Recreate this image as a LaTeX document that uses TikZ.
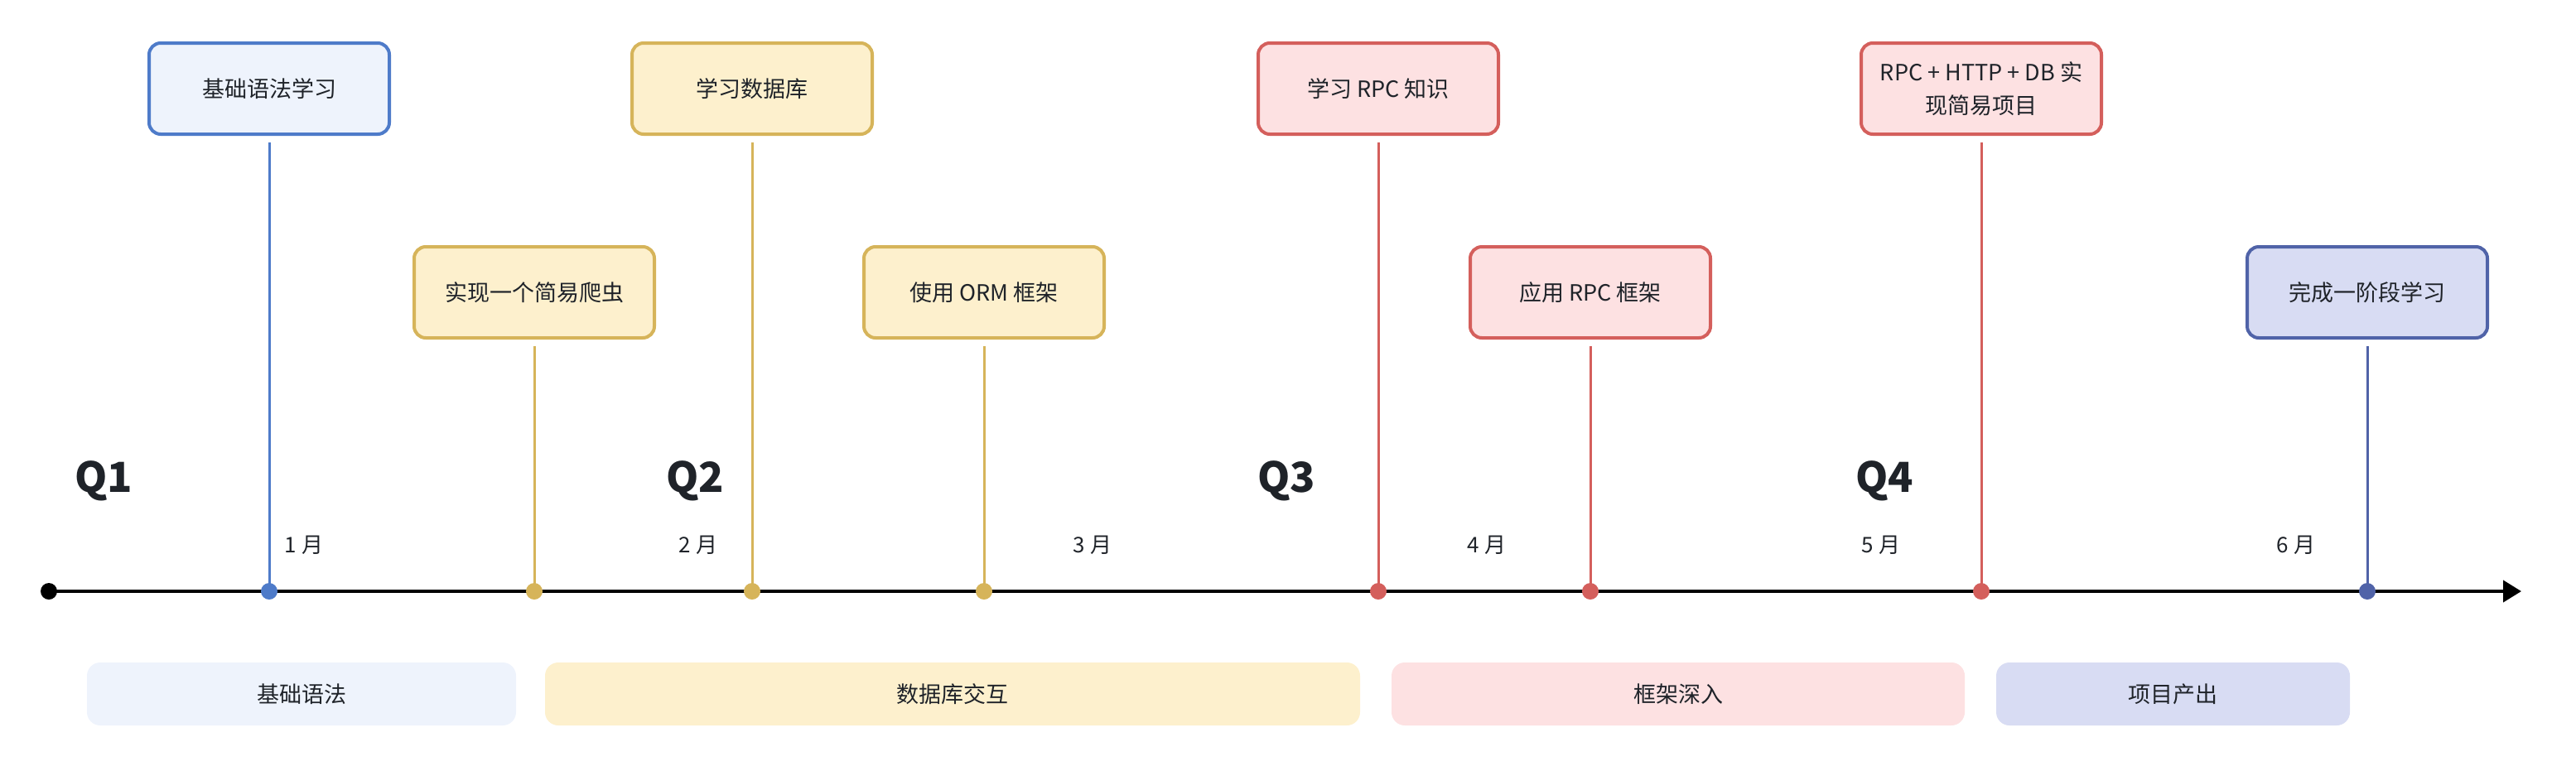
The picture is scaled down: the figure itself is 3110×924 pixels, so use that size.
\documentclass[tikz,border=0pt]{standalone}
\usepackage{fontspec}
\setmainfont{Noto Sans CJK SC}
\usetikzlibrary{arrows.meta}
\definecolor{textc}{HTML}{1F2329}
\definecolor{blueb}{HTML}{4E7BC9}
\definecolor{bluef}{HTML}{EEF3FC}
\definecolor{yelb}{HTML}{D6B45A}
\definecolor{yelf}{HTML}{FDF0CD}
\definecolor{redb}{HTML}{D45F5C}
\definecolor{redf}{HTML}{FDE1E2}
\definecolor{navb}{HTML}{5063A8}
\definecolor{navf}{HTML}{D8DCF3}
\tikzset{
  evbox/.style={draw=#1b, fill=#1f, line width=4pt, rounded corners=14pt,
    minimum width=290pt, minimum height=110pt, inner sep=0pt, align=center,
    text=textc, font=\fontsize{27}{40}\selectfont},
  tick/.style={circle, fill=#1b, minimum size=20pt, inner sep=0pt},
  stem/.style={draw=#1b, line width=3pt},
  band/.style={fill=#1f, rounded corners=16pt, minimum height=76pt, inner sep=0pt,
    text=textc, font=\fontsize{27}{32}\selectfont},
  qlab/.style={text=textc, font=\fontsize{50}{56}\selectfont\bfseries},
  mlab/.style={text=textc, font=\fontsize{26}{30}\selectfont}
}
\begin{document}
\begin{tikzpicture}[x=1pt,y=-1pt]
\useasboundingbox (0,0) rectangle (3110,924);
% event boxes
\node[evbox=blue] (b1) at (325,107) {基础语法学习};
\node[evbox=yel] (b2) at (645,353) {实现一个简易爬虫};
\node[evbox=yel] (b3) at (908,107) {学习数据库};
\node[evbox=yel] (b4) at (1188,353) {使用 ORM 框架};
\node[evbox=red] (b5) at (1664,107) {学习 RPC 知识};
\node[evbox=red] (b6) at (1920,353) {应用 RPC 框架};
\node[evbox=red] (b7) at (2392,107) {RPC + HTTP + DB 实\\现简易项目};
\node[evbox=nav] (b8) at (2858,353) {完成一阶段学习};
% axis
\node[circle, fill=black, minimum size=20pt, inner sep=0pt] (s) at (59,714) {};
\coordinate (e) at (3044,714);
\draw[line width=4pt, -{Triangle[length=22pt,width=26pt]}] (s.center) -- (e);
% tick coordinates
\coordinate (p1) at (325,714);
\coordinate (p2) at (645,714);
\coordinate (p3) at (908,714);
\coordinate (p4) at (1188,714);
\coordinate (p5) at (1664,714);
\coordinate (p6) at (1920,714);
\coordinate (p7) at (2392,714);
\coordinate (p8) at (2858,714);
% stems
\draw[stem=blue] ([yshift=-8pt]b1.south) -- (p1);
\draw[stem=yel] ([yshift=-8pt]b2.south) -- (p2);
\draw[stem=yel] ([yshift=-8pt]b3.south) -- (p3);
\draw[stem=yel] ([yshift=-8pt]b4.south) -- (p4);
\draw[stem=red] ([yshift=-8pt]b5.south) -- (p5);
\draw[stem=red] ([yshift=-8pt]b6.south) -- (p6);
\draw[stem=red] ([yshift=-8pt]b7.south) -- (p7);
\draw[stem=nav] ([yshift=-8pt]b8.south) -- (p8);
% dots
\node[tick=blue] (d1) at (p1) {};
\node[tick=yel] (d2) at (p2) {};
\node[tick=yel] (d3) at (p3) {};
\node[tick=yel] (d4) at (p4) {};
\node[tick=red] (d5) at (p5) {};
\node[tick=red] (d6) at (p6) {};
\node[tick=red] (d7) at (p7) {};
\node[tick=nav] (d8) at (p8) {};
% quarter labels
\node[qlab] (q1) at (125,581) {Q1};
\node[qlab] (q2) at (839,581) {Q2};
\node[qlab] (q3) at (1553,581) {Q3};
\node[qlab] (q4) at (2275,581) {Q4};
% month labels
\node[mlab] (m1) at (367,658) {1 月};
\node[mlab] (m2) at (843,658) {2 月};
\node[mlab] (m3) at (1319,658) {3 月};
\node[mlab] (m4) at (1795,658) {4 月};
\node[mlab] (m5) at (2271,658) {5 月};
\node[mlab] (m6) at (2772,658) {6 月};
% phase bands
\node[band=blue, minimum width=518pt] (ph1) at (364,838) {基础语法};
\node[band=yel, minimum width=984pt] (ph2) at (1150,838) {数据库交互};
\node[band=red, minimum width=692pt] (ph3) at (2026,838) {框架深入};
\node[band=nav, minimum width=427pt] (ph4) at (2623.5,838) {项目产出};
\end{tikzpicture}
\end{document}
